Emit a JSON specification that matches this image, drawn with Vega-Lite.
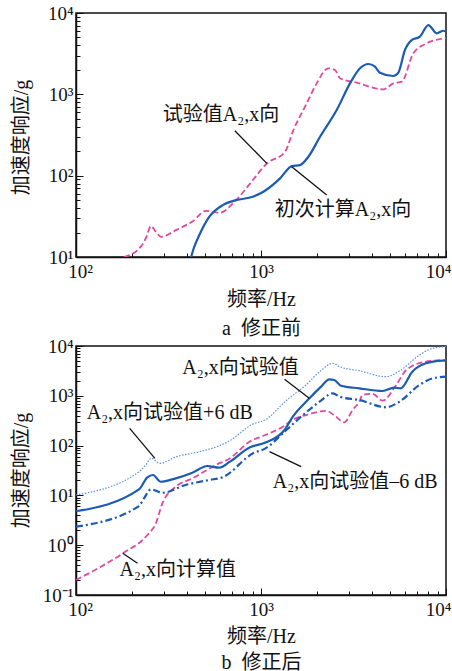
{
  "$schema": "https://vega.github.io/schema/vega-lite/v6.json",
  "autosize": {"type": "none"},
  "padding": {"left": 76, "top": 13, "right": 376, "bottom": 658},
  "background": "white",
  "spacing": 89,
  "bounds": "flush",
  "config": {
    "font": "Liberation Serif, Noto Sans CJK SC",
    "view": {"stroke": "#111", "strokeWidth": 1.5},
    "axis": {
      "grid": false,
      "domainColor": "#111", "domainWidth": 1.5,
      "tickColor": "#111", "tickWidth": 1,
      "labelColor": "#111", "titleColor": "#111",
      "labelFont": "Liberation Serif, Noto Sans CJK SC", "labelFontSize": 19,
      "titleFont": "Liberation Serif, Noto Sans CJK SC", "titleFontSize": 20, "titleFontWeight": "normal",
      "labelFlush": false, "labelOverlap": false
    },
    "text": {"font": "Liberation Serif, Noto Sans CJK SC", "fontSize": 20, "color": "#111"}
  },
  "datasets": {
    "top": [
      {"s": "试验值", "f": 182, "v": 10}, {"s": "试验值", "f": 224, "v": 13.4}, {"s": "试验值", "f": 240, "v": 17.5},
      {"s": "试验值", "f": 254, "v": 24}, {"s": "试验值", "f": 268, "v": 21}, {"s": "试验值", "f": 288, "v": 17.7},
      {"s": "试验值", "f": 347, "v": 21.4}, {"s": "试验值", "f": 428, "v": 27.6}, {"s": "试验值", "f": 505, "v": 37},
      {"s": "试验值", "f": 560, "v": 35.5}, {"s": "试验值", "f": 596, "v": 35}, {"s": "试验值", "f": 733, "v": 50},
      {"s": "试验值", "f": 873, "v": 80}, {"s": "试验值", "f": 1075, "v": 141}, {"s": "试验值", "f": 1349, "v": 197},
      {"s": "试验值", "f": 1497, "v": 364}, {"s": "试验值", "f": 1767, "v": 775}, {"s": "试验值", "f": 2000, "v": 1365},
      {"s": "试验值", "f": 2311, "v": 2090}, {"s": "试验值", "f": 2512, "v": 1990}, {"s": "试验值", "f": 2673, "v": 1575},
      {"s": "试验值", "f": 3289, "v": 1390}, {"s": "试验值", "f": 4581, "v": 1150}, {"s": "试验值", "f": 5190, "v": 1365},
      {"s": "试验值", "f": 5768, "v": 1430}, {"s": "试验值", "f": 6655, "v": 3190}, {"s": "试验值", "f": 7870, "v": 4240},
      {"s": "试验值", "f": 9680, "v": 4890}, {"s": "试验值", "f": 10000, "v": 4950},
      {"s": "初次计算", "f": 419, "v": 10}, {"s": "初次计算", "f": 436, "v": 13.4}, {"s": "初次计算", "f": 464, "v": 18.6},
      {"s": "初次计算", "f": 526, "v": 31.3}, {"s": "初次计算", "f": 621, "v": 43.5}, {"s": "初次计算", "f": 733, "v": 50},
      {"s": "初次计算", "f": 902, "v": 55}, {"s": "初次计算", "f": 1030, "v": 63.4}, {"s": "初次计算", "f": 1268, "v": 92.7},
      {"s": "初次计算", "f": 1466, "v": 131}, {"s": "初次计算", "f": 1626, "v": 135}, {"s": "初次计算", "f": 1803, "v": 171},
      {"s": "初次计算", "f": 2085, "v": 301}, {"s": "初次计算", "f": 2565, "v": 641}, {"s": "初次计算", "f": 3028, "v": 1365},
      {"s": "初次计算", "f": 3430, "v": 2090}, {"s": "初次计算", "f": 3803, "v": 2360}, {"s": "初次计算", "f": 4130, "v": 2188},
      {"s": "初次计算", "f": 4396, "v": 1845}, {"s": "初次计算", "f": 5190, "v": 1680}, {"s": "初次计算", "f": 5525, "v": 1845},
      {"s": "初次计算", "f": 5999, "v": 3510}, {"s": "初次计算", "f": 6525, "v": 4650}, {"s": "初次计算", "f": 7230, "v": 5120},
      {"s": "初次计算", "f": 8030, "v": 7110}, {"s": "初次计算", "f": 8910, "v": 5630}, {"s": "初次计算", "f": 9680, "v": 6050},
      {"s": "初次计算", "f": 10000, "v": 5950}
    ],
    "topLeaders": [
      {"f1": 722, "v1": 357, "f2": 1075, "v2": 141.6},
      {"f1": 1466, "v1": 129, "f2": 2265, "v2": 57.7}
    ],
    "topNotes": [
      {"t": "试验值A₂,x向", "f": 608, "v": 556},
      {"t": "初次计算A₂,x向", "f": 2773, "v": 37.8}
    ],
    "bottom": [
      {"s": "试验值", "f": 100, "v": 4.8}, {"s": "试验值", "f": 219, "v": 13.2}, {"s": "试验值", "f": 243, "v": 23},
      {"s": "试验值", "f": 261, "v": 25.7}, {"s": "试验值", "f": 287, "v": 18.8}, {"s": "试验值", "f": 346, "v": 22},
      {"s": "试验值", "f": 426, "v": 28.6}, {"s": "试验值", "f": 513, "v": 38.9}, {"s": "试验值", "f": 593, "v": 36},
      {"s": "试验值", "f": 676, "v": 47}, {"s": "试验值", "f": 867, "v": 92}, {"s": "试验值", "f": 1057, "v": 115},
      {"s": "试验值", "f": 1340, "v": 206}, {"s": "试验值", "f": 1486, "v": 381}, {"s": "试验值", "f": 1829, "v": 891},
      {"s": "试验值", "f": 2113, "v": 1525}, {"s": "试验值", "f": 2340, "v": 2140}, {"s": "试验值", "f": 2489, "v": 2075},
      {"s": "试验值", "f": 2704, "v": 1596}, {"s": "试验值", "f": 3396, "v": 1413}, {"s": "试验值", "f": 4539, "v": 1248},
      {"s": "试验值", "f": 5248, "v": 1456}, {"s": "试验值", "f": 5700, "v": 1413}, {"s": "试验值", "f": 6577, "v": 3050},
      {"s": "试验值", "f": 7780, "v": 4490}, {"s": "试验值", "f": 9550, "v": 5070}, {"s": "试验值", "f": 10000, "v": 5100},
      {"s": "+6dB", "f": 100, "v": 10.2}, {"s": "+6dB", "f": 219, "v": 29.9}, {"s": "+6dB", "f": 238, "v": 40.7},
      {"s": "+6dB", "f": 255, "v": 55.6}, {"s": "+6dB", "f": 284, "v": 44}, {"s": "+6dB", "f": 350, "v": 60},
      {"s": "+6dB", "f": 466, "v": 75.5}, {"s": "+6dB", "f": 598, "v": 100}, {"s": "+6dB", "f": 676, "v": 125},
      {"s": "+6dB", "f": 903, "v": 270}, {"s": "+6dB", "f": 1057, "v": 330}, {"s": "+6dB", "f": 1368, "v": 800},
      {"s": "+6dB", "f": 1750, "v": 1650}, {"s": "+6dB", "f": 2075, "v": 3050}, {"s": "+6dB", "f": 2449, "v": 4490},
      {"s": "+6dB", "f": 2660, "v": 3850}, {"s": "+6dB", "f": 3396, "v": 3190}, {"s": "+6dB", "f": 4740, "v": 2420},
      {"s": "+6dB", "f": 5700, "v": 3300}, {"s": "+6dB", "f": 7190, "v": 6590}, {"s": "+6dB", "f": 8480, "v": 8980},
      {"s": "+6dB", "f": 10000, "v": 9700},
      {"s": "-6dB", "f": 100, "v": 2.35}, {"s": "-6dB", "f": 219, "v": 6.1}, {"s": "-6dB", "f": 233, "v": 8.7},
      {"s": "-6dB", "f": 254, "v": 13.2}, {"s": "-6dB", "f": 293, "v": 11.3}, {"s": "-6dB", "f": 392, "v": 16.2},
      {"s": "-6dB", "f": 524, "v": 20.4}, {"s": "-6dB", "f": 618, "v": 23}, {"s": "-6dB", "f": 906, "v": 70},
      {"s": "-6dB", "f": 1057, "v": 88}, {"s": "-6dB", "f": 1371, "v": 206}, {"s": "-6dB", "f": 1687, "v": 411},
      {"s": "-6dB", "f": 2075, "v": 762}, {"s": "-6dB", "f": 2449, "v": 1122}, {"s": "-6dB", "f": 2660, "v": 960},
      {"s": "-6dB", "f": 3396, "v": 824}, {"s": "-6dB", "f": 4740, "v": 588}, {"s": "-6dB", "f": 5600, "v": 762},
      {"s": "-6dB", "f": 7190, "v": 1649}, {"s": "-6dB", "f": 8480, "v": 2240}, {"s": "-6dB", "f": 10000, "v": 2420},
      {"s": "计算值", "f": 100, "v": 0.2}, {"s": "计算值", "f": 179, "v": 0.69}, {"s": "计算值", "f": 243, "v": 1.6},
      {"s": "计算值", "f": 270, "v": 2.75}, {"s": "计算值", "f": 293, "v": 6.9}, {"s": "计算值", "f": 346, "v": 15},
      {"s": "计算值", "f": 426, "v": 22}, {"s": "计算值", "f": 507, "v": 32}, {"s": "计算值", "f": 569, "v": 40.7},
      {"s": "计算值", "f": 676, "v": 55}, {"s": "计算值", "f": 867, "v": 120}, {"s": "计算值", "f": 1057, "v": 163},
      {"s": "计算值", "f": 1312, "v": 240}, {"s": "计算值", "f": 1486, "v": 330}, {"s": "计算值", "f": 1829, "v": 430},
      {"s": "计算值", "f": 2249, "v": 500}, {"s": "计算值", "f": 2540, "v": 380}, {"s": "计算值", "f": 2818, "v": 293},
      {"s": "计算值", "f": 3126, "v": 519}, {"s": "计算值", "f": 3396, "v": 762}, {"s": "计算值", "f": 3540, "v": 1037},
      {"s": "计算值", "f": 4010, "v": 1100}, {"s": "计算值", "f": 4539, "v": 800}, {"s": "计算值", "f": 5380, "v": 1649},
      {"s": "计算值", "f": 6100, "v": 3300}, {"s": "计算值", "f": 7780, "v": 4840}, {"s": "计算值", "f": 10000, "v": 5240}
    ],
    "bottomLeaders": [
      {"f1": 1340, "v1": 2143, "f2": 1824, "v2": 891},
      {"f1": 195, "v1": 222, "f2": 267, "v2": 55.6},
      {"f1": 1111, "v1": 75.5, "f2": 1648, "v2": 37.7},
      {"f1": 179, "v1": 0.687, "f2": 215, "v2": 0.434}
    ],
    "bottomNotes": [
      {"t": "A₂,x向试验值", "f": 775, "v": 3614},
      {"t": "A₂,x向试验值+6 dB", "f": 321, "v": 452},
      {"t": "A₂,x向试验值–6 dB", "f": 3228, "v": 18.8},
      {"t": "A₂,x向计算值", "f": 355, "v": 0.318}
    ]
  },
  "vconcat": [
    {
      "width": 370,
      "height": 244,
      "layer": [
        {
          "data": {"name": "top"},
          "transform": [{"filter": "datum.s == '试验值'"}],
          "mark": {"type": "line", "clip": true, "interpolate": "monotone", "color": "#e0499e", "strokeWidth": 1.8, "strokeDash": [6, 3]},
          "encoding": {
            "x": {"field": "f", "type": "quantitative",
              "scale": {"type": "log", "domain": [100, 10000], "nice": false},
              "axis": {
                "values": [100, 200, 300, 400, 500, 600, 700, 800, 900, 1000, 2000, 3000, 4000, 5000, 6000, 7000, 8000, 9000, 10000],
                "labelExpr": "datum.value == 100 ? '10²' : datum.value == 1000 ? '10³' : datum.value == 10000 ? '10⁴' : ''",
                "tickSize": {"condition": {"test": "indexof([100, 1000, 10000], datum.value) >= 0", "value": -7}, "value": -4},
                "labelPadding": 12,
                "labelOffset": {"condition": [{"test": "datum.value == 100", "value": 4}, {"test": "datum.value == 10000", "value": -8}], "value": 0},
                "title": ["频率/Hz", "a\u2002修正前"],
                "titleY": 48, "titleBaseline": "alphabetic", "titleLineHeight": 29
              }
            },
            "y": {"field": "v", "type": "quantitative",
              "scale": {"type": "log", "domain": [10, 10000], "nice": false},
              "axis": {
                "values": [10, 20, 30, 40, 50, 60, 70, 80, 90, 100, 200, 300, 400, 500, 600, 700, 800, 900, 1000, 2000, 3000, 4000, 5000, 6000, 7000, 8000, 9000, 10000],
                "labelExpr": "datum.value == 10 ? '10¹' : datum.value == 100 ? '10²' : datum.value == 1000 ? '10³' : datum.value == 10000 ? '10⁴' : ''",
                "tickSize": {"condition": {"test": "indexof([10, 100, 1000, 10000], datum.value) >= 0", "value": -7}, "value": -4},
                "labelPadding": 10,
                "title": "加速度响应/g",
                "titleX": -49, "titleY": 124, "titleBaseline": "alphabetic"
              }
            }
          }
        },
        {
          "data": {"name": "top"},
          "transform": [{"filter": "datum.s == '初次计算'"}],
          "mark": {"type": "line", "clip": true, "interpolate": "monotone", "color": "#1c5bb5", "strokeWidth": 2.2},
          "encoding": {
            "x": {"field": "f", "type": "quantitative", "scale": {"type": "log", "domain": [100, 10000], "nice": false}},
            "y": {"field": "v", "type": "quantitative", "scale": {"type": "log", "domain": [10, 10000], "nice": false}}
          }
        },
        {
          "data": {"name": "topLeaders"},
          "mark": {"type": "rule", "color": "#111", "strokeWidth": 1.3},
          "encoding": {
            "x": {"field": "f1", "type": "quantitative", "scale": {"type": "log", "domain": [100, 10000], "nice": false}},
            "y": {"field": "v1", "type": "quantitative", "scale": {"type": "log", "domain": [10, 10000], "nice": false}},
            "x2": {"field": "f2"},
            "y2": {"field": "v2"}
          }
        },
        {
          "data": {"name": "topNotes"},
          "mark": {"type": "text", "align": "center", "baseline": "middle"},
          "encoding": {
            "x": {"field": "f", "type": "quantitative", "scale": {"type": "log", "domain": [100, 10000], "nice": false}},
            "y": {"field": "v", "type": "quantitative", "scale": {"type": "log", "domain": [10, 10000], "nice": false}},
            "text": {"field": "t"}
          }
        }
      ]
    },
    {
      "width": 370,
      "height": 249,
      "layer": [
        {
          "data": {"name": "bottom"},
          "transform": [{"filter": "datum.s == '+6dB'"}],
          "mark": {"type": "line", "clip": true, "interpolate": "monotone", "color": "#5a8ee0", "strokeWidth": 1.2, "strokeDash": [1.5, 1.5]},
          "encoding": {
            "x": {"field": "f", "type": "quantitative",
              "scale": {"type": "log", "domain": [100, 10000], "nice": false},
              "axis": {
                "values": [100, 200, 300, 400, 500, 600, 700, 800, 900, 1000, 2000, 3000, 4000, 5000, 6000, 7000, 8000, 9000, 10000],
                "labelExpr": "datum.value == 100 ? '10²' : datum.value == 1000 ? '10³' : datum.value == 10000 ? '10⁴' : ''",
                "tickSize": {"condition": {"test": "indexof([100, 1000, 10000], datum.value) >= 0", "value": -7}, "value": -4},
                "labelPadding": 12,
                "labelOffset": {"condition": [{"test": "datum.value == 100", "value": 4}, {"test": "datum.value == 10000", "value": -8}], "value": 0},
                "title": ["频率/Hz", "b\u2002修正后"],
                "titleY": 47, "titleBaseline": "alphabetic", "titleLineHeight": 26
              }
            },
            "y": {"field": "v", "type": "quantitative",
              "scale": {"type": "log", "domain": [0.1, 10000], "nice": false},
              "axis": {
                "values": [0.1, 0.2, 0.3, 0.4, 0.5, 0.6, 0.7, 0.8, 0.9, 1, 2, 3, 4, 5, 6, 7, 8, 9, 10, 20, 30, 40, 50, 60, 70, 80, 90, 100, 200, 300, 400, 500, 600, 700, 800, 900, 1000, 2000, 3000, 4000, 5000, 6000, 7000, 8000, 9000, 10000],
                "labelExpr": "datum.value == 0.1 ? '10⁻¹' : datum.value == 1 ? '10⁰' : datum.value == 10 ? '10¹' : datum.value == 100 ? '10²' : datum.value == 1000 ? '10³' : datum.value == 10000 ? '10⁴' : ''",
                "tickSize": {"condition": {"test": "indexof([0.1, 1, 10, 100, 1000, 10000], datum.value) >= 0", "value": -7}, "value": -4},
                "labelPadding": 10,
                "title": "加速度响应/g",
                "titleX": -49, "titleY": 124, "titleBaseline": "alphabetic"
              }
            }
          }
        },
        {
          "data": {"name": "bottom"},
          "transform": [{"filter": "datum.s == '计算值'"}],
          "mark": {"type": "line", "clip": true, "interpolate": "monotone", "color": "#e0499e", "strokeWidth": 1.8, "strokeDash": [6, 3]},
          "encoding": {
            "x": {"field": "f", "type": "quantitative", "scale": {"type": "log", "domain": [100, 10000], "nice": false}},
            "y": {"field": "v", "type": "quantitative", "scale": {"type": "log", "domain": [0.1, 10000], "nice": false}}
          }
        },
        {
          "data": {"name": "bottom"},
          "transform": [{"filter": "datum.s == '-6dB'"}],
          "mark": {"type": "line", "clip": true, "interpolate": "monotone", "color": "#1c5bb5", "strokeWidth": 2.2, "strokeDash": [7, 3, 2, 3]},
          "encoding": {
            "x": {"field": "f", "type": "quantitative", "scale": {"type": "log", "domain": [100, 10000], "nice": false}},
            "y": {"field": "v", "type": "quantitative", "scale": {"type": "log", "domain": [0.1, 10000], "nice": false}}
          }
        },
        {
          "data": {"name": "bottom"},
          "transform": [{"filter": "datum.s == '试验值'"}],
          "mark": {"type": "line", "clip": true, "interpolate": "monotone", "color": "#1c5bb5", "strokeWidth": 2.2},
          "encoding": {
            "x": {"field": "f", "type": "quantitative", "scale": {"type": "log", "domain": [100, 10000], "nice": false}},
            "y": {"field": "v", "type": "quantitative", "scale": {"type": "log", "domain": [0.1, 10000], "nice": false}}
          }
        },
        {
          "data": {"name": "bottomLeaders"},
          "mark": {"type": "rule", "color": "#111", "strokeWidth": 1.3},
          "encoding": {
            "x": {"field": "f1", "type": "quantitative", "scale": {"type": "log", "domain": [100, 10000], "nice": false}},
            "y": {"field": "v1", "type": "quantitative", "scale": {"type": "log", "domain": [0.1, 10000], "nice": false}},
            "x2": {"field": "f2"},
            "y2": {"field": "v2"}
          }
        },
        {
          "data": {"name": "bottomNotes"},
          "mark": {"type": "text", "align": "center", "baseline": "middle"},
          "encoding": {
            "x": {"field": "f", "type": "quantitative", "scale": {"type": "log", "domain": [100, 10000], "nice": false}},
            "y": {"field": "v", "type": "quantitative", "scale": {"type": "log", "domain": [0.1, 10000], "nice": false}},
            "text": {"field": "t"}
          }
        }
      ]
    }
  ]
}
